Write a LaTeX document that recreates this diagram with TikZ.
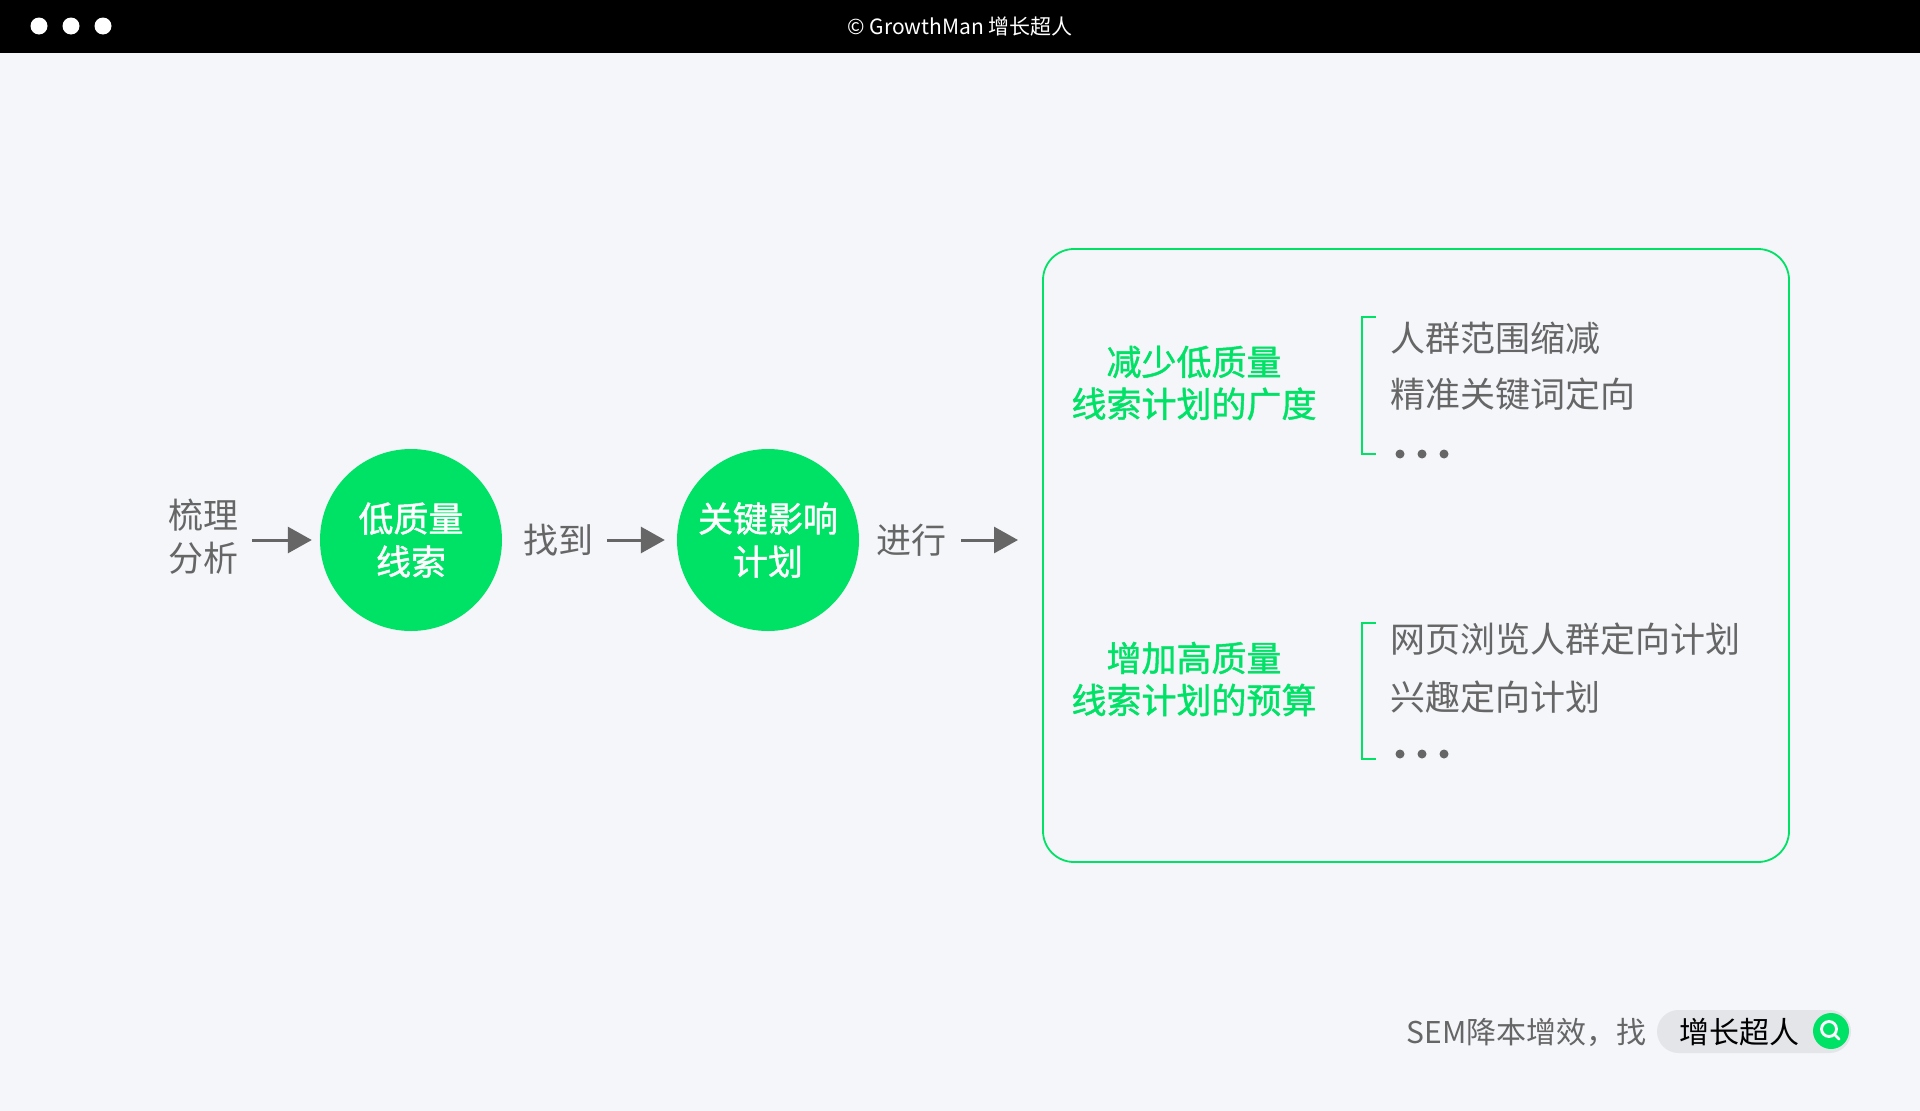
\documentclass[tikz,border=0pt]{standalone}
\usepackage{fontspec}
\setmainfont{Noto Sans CJK SC}
\newfontfamily\medfont[FakeBold=1.2]{Noto Sans CJK SC}
\usetikzlibrary{arrows.meta}
\definecolor{bg}{HTML}{F4F6FA}
\definecolor{gr}{HTML}{00E266}
\definecolor{tx}{HTML}{666666}
\definecolor{pill}{HTML}{E3E5E9}
\tikzset{
  grey/.style={text=tx,inner sep=0pt,align=center,font=\fontsize{35}{43}\selectfont},
  circ/.style={circle,fill=gr,minimum size=182pt,inner sep=0pt,text=white,align=center,font=\medfont\fontsize{35}{43}\selectfont},
  glabel/.style={text=gr,inner sep=0pt,align=center,font=\medfont\fontsize{35}{42}\selectfont},
  item/.style={text=tx,inner sep=0pt,anchor=west,font=\fontsize{35}{42}\selectfont},
  arr/.style={draw=tx,line width=3pt,-{Triangle[length=24pt,width=26pt]}},
  brk/.style={draw=gr,line width=1.6pt},
  dotsty/.style={fill=tx}
}
\begin{document}
\begin{tikzpicture}[x=1pt,y=-1pt]
\useasboundingbox (0,0) rectangle (1920,1111);
\fill[bg] (0,0) rectangle (1920,1111);
\fill[black] (0,0) rectangle (1920,53);
\foreach \x in {39,71,103} \fill[white] (\x,26) circle (8.5);
\node[text=white,inner sep=0pt,font=\fontsize{21}{24}\selectfont] (title) at (960,27) {© GrowthMan 增长超人};
% flow
\node[grey] (t1) at (203,537) {梳理\\分析};
\node[circ] (c1) at (411,540) {低质量\\线索};
\node[grey] (t2) at (558,540) {找到};
\node[circ] (c2) at (768,540) {关键影响\\计划};
\node[grey] (t3) at (911,540) {进行};
% box
\draw[gr,line width=1.8pt,rounded corners=31pt] (1043,249) rectangle (1789,862);
\coordinate (boxw) at (1043,540);
\draw[arr,shorten <=14pt,shorten >=8pt] (t1.east |- c1.west) -- (c1.west);
\draw[arr,shorten <=14pt,shorten >=12pt] (t2.east) -- (c2.west);
\draw[arr,shorten <=15pt,shorten >=25pt] (t3.east) -- (boxw);
% group 1
\node[glabel] (g1) at (1194,383) {减少低质量\\线索计划的广度};
\draw[brk] (1376,317) -- (1362,317) -- (1362,454) -- (1376,454);
\node[item] (i11) at (1390,338) {人群范围缩减};
\node[item] (i12) at (1390,394) {精准关键词定向};
\foreach \x in {1400,1422,1444} \fill[dotsty] (\x,454) circle (4.5);
% group 2
\node[glabel] (g2) at (1194,679) {增加高质量\\线索计划的预算};
\draw[brk] (1376,623) -- (1362,623) -- (1362,759) -- (1376,759);
\node[item] (i21) at (1390,639) {网页浏览人群定向计划};
\node[item] (i22) at (1390,697) {兴趣定向计划};
\foreach \x in {1400,1422,1444} \fill[dotsty] (\x,754) circle (4.5);
% footer
\node[text=tx,inner sep=0pt,anchor=east,font=\fontsize{30}{34}\selectfont] (f1) at (1647,1032) {SEM降本增效，找};
\fill[pill,rounded corners=21.5pt] (1657,1010) rectangle (1851,1053);
\node[text=black,inner sep=0pt,font=\fontsize{30}{34}\selectfont] (f2) at (1739,1032) {增长超人};
\fill[gr] (1831,1031) circle (18);
\draw[white,line width=2.8pt] (1829,1029) circle (7.5);
\draw[white,line width=2.8pt,line cap=round] (1834.5,1034.5) -- (1839,1039);
\end{tikzpicture}
\end{document}
